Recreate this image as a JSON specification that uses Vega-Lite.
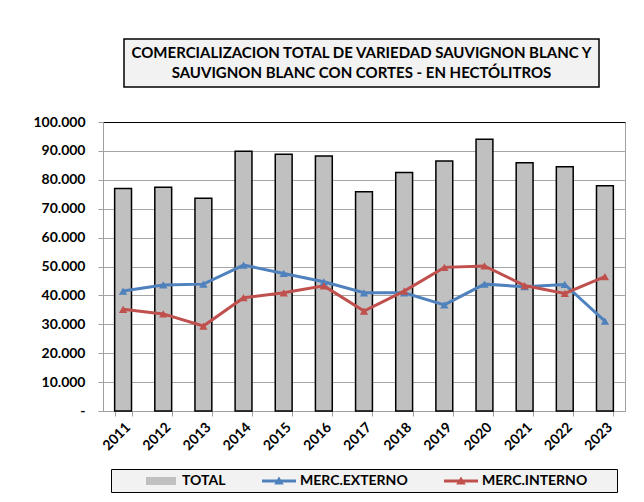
{
  "$schema": "https://vega.github.io/schema/vega-lite/v6.json",
  "padding": {"left": 32, "top": 38, "right": 5, "bottom": 5},
  "background": "white",
  "spacing": 26,
  "config": {
    "font": "Lato",
    "view": {"stroke": null}
  },
  "datasets": {
    "total": [
      {"year": 2011, "serie": "TOTAL", "value": 77000},
      {"year": 2012, "serie": "TOTAL", "value": 77400},
      {"year": 2013, "serie": "TOTAL", "value": 73600},
      {"year": 2014, "serie": "TOTAL", "value": 89900},
      {"year": 2015, "serie": "TOTAL", "value": 88800},
      {"year": 2016, "serie": "TOTAL", "value": 88200},
      {"year": 2017, "serie": "TOTAL", "value": 75900},
      {"year": 2018, "serie": "TOTAL", "value": 82500},
      {"year": 2019, "serie": "TOTAL", "value": 86500},
      {"year": 2020, "serie": "TOTAL", "value": 94000},
      {"year": 2021, "serie": "TOTAL", "value": 85900},
      {"year": 2022, "serie": "TOTAL", "value": 84500},
      {"year": 2023, "serie": "TOTAL", "value": 77900}
    ],
    "mercados": [
      {"year": 2011, "serie": "MERC.EXTERNO", "value": 41500},
      {"year": 2012, "serie": "MERC.EXTERNO", "value": 43600},
      {"year": 2013, "serie": "MERC.EXTERNO", "value": 43900},
      {"year": 2014, "serie": "MERC.EXTERNO", "value": 50500},
      {"year": 2015, "serie": "MERC.EXTERNO", "value": 47600},
      {"year": 2016, "serie": "MERC.EXTERNO", "value": 44700},
      {"year": 2017, "serie": "MERC.EXTERNO", "value": 40900},
      {"year": 2018, "serie": "MERC.EXTERNO", "value": 40900},
      {"year": 2019, "serie": "MERC.EXTERNO", "value": 36700},
      {"year": 2020, "serie": "MERC.EXTERNO", "value": 43900},
      {"year": 2021, "serie": "MERC.EXTERNO", "value": 43000},
      {"year": 2022, "serie": "MERC.EXTERNO", "value": 43800},
      {"year": 2023, "serie": "MERC.EXTERNO", "value": 31100},
      {"year": 2011, "serie": "MERC.INTERNO", "value": 35200},
      {"year": 2012, "serie": "MERC.INTERNO", "value": 33600},
      {"year": 2013, "serie": "MERC.INTERNO", "value": 29400},
      {"year": 2014, "serie": "MERC.INTERNO", "value": 39200},
      {"year": 2015, "serie": "MERC.INTERNO", "value": 40900},
      {"year": 2016, "serie": "MERC.INTERNO", "value": 43300},
      {"year": 2017, "serie": "MERC.INTERNO", "value": 34600},
      {"year": 2018, "serie": "MERC.INTERNO", "value": 41500},
      {"year": 2019, "serie": "MERC.INTERNO", "value": 49700},
      {"year": 2020, "serie": "MERC.INTERNO", "value": 50200},
      {"year": 2021, "serie": "MERC.INTERNO", "value": 43400},
      {"year": 2022, "serie": "MERC.INTERNO", "value": 40700},
      {"year": 2023, "serie": "MERC.INTERNO", "value": 46500}
    ]
  },
  "vconcat": [
    {
      "hconcat": [
        {
          "width": 20,
          "height": 48,
          "data": {"values": [{}]},
          "mark": {"type": "point", "opacity": 0},
          "view": {"stroke": null}
        },
        {
          "width": 475,
          "height": 48,
          "data": {"values": [{}]},
          "view": {"stroke": "#000", "strokeWidth": 1.5, "fill": "#f2f2f2"},
          "mark": {
            "type": "text",
            "text": ["COMERCIALIZACION TOTAL DE VARIEDAD SAUVIGNON BLANC  Y", "SAUVIGNON BLANC CON CORTES - EN HECTÓLITROS"],
            "font": "Lato",
            "fontWeight": "bold",
            "fontSize": 15,
            "lineHeight": 20,
            "align": "center",
            "baseline": "middle",
            "dy": -10,
            "color": "#000"
          }
        }
      ],
      "spacing": 0
    },
    {
      "width": 522,
      "height": 289,
      "view": {"stroke": "#a0a0a0", "strokeWidth": 1},
      "encoding": {
        "x": {
          "field": "year",
          "type": "ordinal",
          "scale": {"paddingInner": 0.58, "paddingOuter": 0.29},
          "axis": {
            "title": null,
            "labelAngle": -45,
            "labelFont": "Lato",
            "labelFontWeight": "bold",
            "labelFontSize": 14,
            "labelColor": "#000",
            "labelPadding": 4,
            "tickBand": "extent",
            "tickSize": 5,
            "tickColor": "#a0a0a0",
            "domainColor": "#a0a0a0",
            "grid": false
          }
        },
        "y": {
          "field": "value",
          "type": "quantitative",
          "scale": {"domain": [0, 100000], "nice": false},
          "axis": {
            "title": null,
            "values": [0, 10000, 20000, 30000, 40000, 50000, 60000, 70000, 80000, 90000, 100000],
            "labelExpr": "datum.value === 0 ? '-' : replace(format(datum.value, ','), ',', '.')",
            "labelFont": "Lato",
            "labelFontWeight": "bold",
            "labelFontSize": 14,
            "labelColor": "#000",
            "labelPadding": 13,
            "tickSize": 5,
            "tickColor": "#a0a0a0",
            "domainColor": "#a0a0a0",
            "gridColor": {"condition": {"test": "datum.value === 100000", "value": "#000"}, "value": "#a6a6a6"},
            "gridWidth": 1
          }
        }
      },
      "layer": [
        {
          "data": {"name": "mercados"},
          "mark": {"type": "point", "filled": true, "opacity": 0},
          "encoding": {
            "color": {
              "field": "serie",
              "type": "nominal",
              "scale": {"domain": ["TOTAL", "MERC.EXTERNO", "MERC.INTERNO"], "range": ["#c0c0c0", "#4f81bd", "#c0504d"]},
              "legend": {
                "orient": "none",
                "legendX": 8,
                "legendY": 430,
                "direction": "horizontal",
                "title": null,
                "labelFont": "Lato",
                "labelFontWeight": "bold",
                "labelFontSize": 14,
                "labelColor": "#000",
                "symbolSize": 256,
                "symbolOpacity": 1,
                "symbolStrokeWidth": 0,
                "symbolOffset": 38,
                "columnPadding": 7,
                "labelOffset": 13,
                "padding": 4,
                "strokeColor": "#000",
                "fillColor": "#f2f2f2"
              }
            },
            "shape": {
              "field": "serie",
              "type": "nominal",
              "scale": {
                "domain": ["TOTAL", "MERC.EXTERNO", "MERC.INTERNO"],
                "range": [
                  "M-1.875,-0.5H1.875V0.5H-1.875Z",
                  "M-2.125,-0.18H2.125V0.18H-2.125ZM-0.6,0.45L0,-0.55L0.6,0.45Z",
                  "M-2.125,-0.18H2.125V0.18H-2.125ZM-0.6,0.45L0,-0.55L0.6,0.45ZM19,0"
                ]
              },
              "legend": {
                "orient": "none",
                "legendX": 8,
                "legendY": 430,
                "direction": "horizontal",
                "title": null,
                "labelFont": "Lato",
                "labelFontWeight": "bold",
                "labelFontSize": 14,
                "labelColor": "#000",
                "symbolSize": 256,
                "symbolOpacity": 1,
                "symbolStrokeWidth": 0,
                "symbolOffset": 38,
                "columnPadding": 7,
                "labelOffset": 13,
                "padding": 4,
                "strokeColor": "#000",
                "fillColor": "#f2f2f2"
              }
            }
          }
        },
        {
          "data": {"name": "total"},
          "mark": {"type": "bar", "stroke": "#000", "strokeWidth": 1.5},
          "encoding": {
            "color": {"field": "serie", "type": "nominal"}
          }
        },
        {
          "data": {"name": "mercados"},
          "mark": {"type": "line", "strokeWidth": 3},
          "encoding": {
            "color": {"field": "serie", "type": "nominal"}
          }
        },
        {
          "data": {"name": "mercados"},
          "mark": {"type": "point", "shape": "triangle-up", "size": 70, "filled": true, "opacity": 1},
          "encoding": {
            "color": {"field": "serie", "type": "nominal"}
          }
        }
      ]
    }
  ]
}
